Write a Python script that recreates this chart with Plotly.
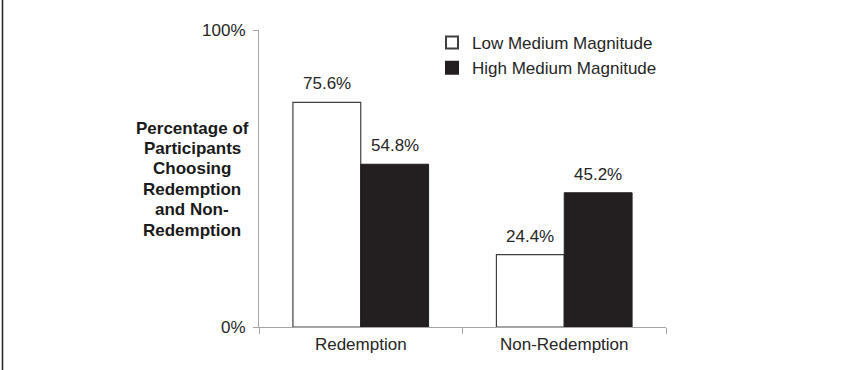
import plotly.graph_objects as go

categories = ["Redemption", "Non-Redemption"]
series_names = ["Low Medium Magnitude", "High Medium Magnitude"]
low_values = [0.756, 0.244]
high_values = [0.548, 0.452]
y_tick_vals = [0, 1]
y_tick_text = ["0%", "100%"]
y_title_lines = ["Percentage of", "Participants", "Choosing", "Redemption", "and Non-", "Redemption"]

W, H = 849, 370
ML, MR, MT, MB = 259, 183, 30, 43
PW, PH = W - ML - MR, H - MT - MB
BARGAP = 1 / 3

FONT = "Liberation Sans, Arial, Helvetica, sans-serif"
FS = 17
TXT = "#262626"
AX = "#a6a6a6"

fig = go.Figure()
fig.add_trace(go.Bar(
    x=categories, y=low_values, name=series_names[0],
    marker=dict(color="#ffffff", line=dict(color="#404040", width=1.2)),
))
fig.add_trace(go.Bar(
    x=categories, y=high_values, name=series_names[1],
    marker=dict(color="#231f20", line=dict(color="#231f20", width=1)),
))

# data labels above each bar (bar centre offset derived from the bar layout)
cat_px = PW / len(categories)
bar_px = cat_px * (1 - BARGAP) / 2
for vals, sign in ((low_values, -1), (high_values, 1)):
    for c, v in zip(categories, vals):
        fig.add_annotation(
            x=c, y=v, xref="x", yref="y", text=f"{v*100:.1f}%",
            showarrow=False, xanchor="center", yanchor="bottom",
            xshift=sign * bar_px / 2, yshift=7,
            font=dict(size=FS, color=TXT, family=FONT),
        )

fig.update_layout(
    width=W, height=H,
    margin=dict(l=ML, r=MR, t=MT, b=MB, pad=0),
    paper_bgcolor="white", plot_bgcolor="white",
    font=dict(family=FONT, size=FS, color=TXT),
    barmode="group", bargap=BARGAP, bargroupgap=0,
    showlegend=True,
    legend=dict(
        x=(432 - ML) / PW, y=1 + 5 / PH, xanchor="left", yanchor="top",
        font=dict(size=FS, color=TXT, family=FONT),
        bgcolor="rgba(0,0,0,0)", tracegroupgap=0, itemsizing="constant",
    ),
    xaxis=dict(
        showline=True, linecolor=AX, linewidth=1.2,
        ticks="outside", tickson="boundaries", ticklen=6, tickcolor=AX, tickwidth=1.2,
        showgrid=False, zeroline=False, ticklabelstandoff=1,
        tickfont=dict(size=FS, color=TXT, family=FONT),
    ),
    yaxis=dict(
        range=[0, 1], tickvals=y_tick_vals, ticktext=y_tick_text,
        showline=True, linecolor=AX, linewidth=1.2,
        ticks="outside", ticklen=5, tickcolor=AX, tickwidth=1.2,
        showgrid=False, zeroline=False, ticklabelstandoff=4,
        tickfont=dict(size=FS, color=TXT, family=FONT),
    ),
)

# multi-line bold y-axis title, one line per annotation for tight line spacing
LINE_PX = 20.4
first_center = 128
for i, s in enumerate(y_title_lines):
    cy = first_center + i * LINE_PX
    fig.add_annotation(
        xref="paper", yref="paper", x=(192 - ML) / PW, y=1 - (cy - MT) / PH,
        xanchor="center", yanchor="middle", align="center", showarrow=False,
        text=f"<b>{s}</b>",
        font=dict(size=FS, color="#1a1a1a", family=FONT),
    )

# frame line of the original figure
fig.add_shape(type="line", xref="paper", yref="paper",
              x0=(2.5 - ML) / PW, x1=(2.5 - ML) / PW,
              y0=-MB / PH, y1=1 + MT / PH,
              line=dict(color="#222222", width=1.5))

fig.write_html("out.html")
